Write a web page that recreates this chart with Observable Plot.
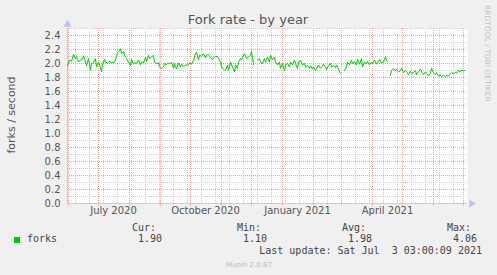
<!DOCTYPE html>
<html>
<head>
<meta charset="utf-8">
<script src="https://cdn.jsdelivr.net/npm/d3@7"></script>
<script src="https://cdn.jsdelivr.net/npm/@observablehq/plot@0.6"></script>
<style>
  html, body { margin: 0; padding: 0; background: #f0f0f0; }
  #chart { width: 497px; height: 275px; }
</style>
</head>
<body>
<div id="chart"></div>
<script>
// ---- data ----
const title = "Fork rate - by year";
const yLabel = "forks / second";
const sideText = "RRDTOOL / TOBI OETIKER";
const startDate = "2020-05-31";   // day 0
// day offsets from startDate (null value = gap in data)
const dayOffsets = [
  0,2,4,6,8,9,11,13,15,16,18,19,21,23,24,26,28,29,31,32,34,35,37,38,40,42,44,47,49,50,
  52,53,54,56,58,59,61,63,64,66,68,69,71,73,74,76,78,79,81,82,84,86,87,89,91,92,94,96,97,99,
  101,102,104,106,107,109,111,113,114,116,118,120,122,124,126,128,129,131,132,134,136,138,139,141,143,145,146,148,150,151,
  153,154,155,157,158,160,161,163,165,167,168,170,171,173,174,176,177,179,181,183,184,185,186,187,
  190,192,193,195,197,198,200,202,203,205,207,208,210,212,213,215,217,218,220,222,223,225,227,228,230,231,233,235,237,238,
  240,242,243,245,246,248,250,251,253,255,256,258,259,261,263,264,266,268,269,271,272,273,274,
  277,279,280,282,284,285,287,289,290,292,294,295,297,299,300,302,304,305,307,309,310,312,313,315,317,318,319,320,321,
  323,324,326,328,329,331,333,334,336,338,339,341,343,344,346,348,349,351,353,354,356,358,359,361,363,364,366,368,369,371,
  373,374,376,378,379,381,383,384,386,388,389,391,393,394,396,397
];
const forkRate = [
  1.97,2.05,2.03,2.13,2.07,2.10,2.02,2.05,2.06,2.11,2.02,1.97,2.07,1.90,2.00,2.01,2.07,1.95,2.02,1.98,1.88,1.99,2.06,2.02,2.01,2.03,2.01,2.02,2.10,2.16,
  2.18,2.21,2.14,2.17,2.09,2.07,2.02,1.97,2.06,1.99,2.02,2.00,2.05,1.98,2.02,2.01,2.09,2.03,2.12,2.07,2.09,2.12,2.02,2.00,2.01,1.95,1.93,1.95,2.00,1.98,
  2.01,1.99,2.02,1.93,2.00,1.92,2.01,1.95,1.99,1.95,1.98,1.97,2.01,1.99,2.04,2.14,2.16,2.05,2.12,2.10,2.14,2.08,2.12,2.13,2.08,2.06,2.08,2.10,2.10,2.07,
  2.02,1.95,1.93,1.91,1.90,1.98,1.90,2.02,1.95,1.88,1.98,1.93,2.02,2.07,2.05,2.12,2.14,2.07,2.09,2.12,2.17,2.09,1.98,null,
  2.05,2.07,2.02,2.00,2.07,2.02,2.09,2.02,2.12,2.05,2.09,2.02,1.98,2.02,1.93,2.00,1.90,1.98,2.00,1.95,2.02,1.98,2.05,2.00,1.93,2.02,2.05,1.98,2.00,1.95,
  1.97,1.93,1.97,1.92,1.95,1.90,1.95,1.98,1.93,1.96,1.99,1.95,1.91,1.97,2.00,1.95,1.97,1.94,1.98,1.93,1.88,1.86,null,
  1.90,1.95,2.02,1.98,2.05,2.00,2.03,1.98,2.06,1.99,2.07,1.95,2.02,2.00,2.03,1.98,2.02,2.00,2.05,1.99,2.01,2.06,2.02,2.01,2.05,2.10,2.04,2.03,null,
  1.83,1.90,1.93,1.89,1.92,1.88,1.90,1.93,1.87,1.90,1.88,1.84,1.89,1.86,1.87,1.90,1.84,1.88,1.92,1.88,1.84,1.88,1.86,1.82,1.86,1.93,1.87,1.84,1.87,1.82,
  1.84,1.81,1.83,1.81,1.83,1.82,1.86,1.87,1.85,1.88,1.86,1.90,1.88,1.91,1.89,1.90
];
const xLabels = ["July 2020", "October 2020", "January 2021", "April 2021"];
const xLabelDates = ["2020-07-16", "2020-10-16", "2021-01-16", "2021-04-16"];
const yMajorTicks = [0,0.2,0.4,0.6,0.8,1.0,1.2,1.4,1.6,1.8,2.0,2.2,2.4];
const yMinorTicks = [0.1,0.3,0.5,0.7,0.9,1.1,1.3,1.5,1.7,1.9,2.1,2.3,2.5];
const legendName = "forks";
const statHeads = ["Cur:", "Min:", "Avg:", "Max:"];
const statValues = ["1.90", "1.10", "1.98", "4.06"];
const lastUpdate = "Last update: Sat Jul  3 03:00:09 2021";
const footer = "Munin 2.0.67";

// ---- derived ----
const DAY = 86400000;
const t0 = new Date(startDate + "T00:00:00Z").getTime();
const data = dayOffsets.map((d, i) => ({date: new Date(t0 + d * DAY), value: forkRate[i]}));
const monthStarts = d3.utcMonths(new Date("2020-06-01T00:00:00Z"), new Date("2021-07-02T00:00:00Z"));
const biweekly = d3.utcDays(new Date("2020-06-08T00:00:00Z"), new Date("2021-07-04T00:00:00Z"), 14);
const xDomain = [new Date(t0), new Date(t0 + 400 * DAY)];
const labelDates = xLabelDates.map(s => new Date(s + "T00:00:00Z"));

const minorStyle = {stroke: "#cccccc", strokeDasharray: "1,1", strokeWidth: 1};
const majorStyle = {stroke: "#eaa2a2", strokeDasharray: "1,1", strokeWidth: 1};

const plot = Plot.plot({
  width: 497,
  height: 275,
  marginLeft: 67,
  marginRight: 30,
  marginTop: 28,
  marginBottom: 72,
  style: {background: "#f0f0f0", fontFamily: "DejaVu Sans", fontSize: "10px", color: "#555", overflow: "visible"},
  x: {type: "utc", domain: xDomain},
  y: {domain: [0, 2.5]},
  marks: [
    Plot.frame({fill: "white", stroke: null}),
    Plot.ruleY(yMinorTicks, {y: d => d, ...minorStyle}),
    Plot.ruleX(biweekly, {x: d => d, ...minorStyle}),
    Plot.ruleY(yMajorTicks.filter(d => d > 0), {y: d => d, ...majorStyle}),
    Plot.ruleX(monthStarts, {x: d => d, ...majorStyle}),
    Plot.ruleX(monthStarts, {x: d => d, y1: 0, y2: -0.035, stroke: "#e6a0a0", clip: false}),
    Plot.axisY({ticks: yMajorTicks, tickFormat: d3.format(".1f"), tickSize: 0, tickPadding: 7, label: null, fontSize: 10}),
    Plot.axisX({ticks: labelDates, tickFormat: (d, i) => xLabels[i], tickSize: 0, tickPadding: 3, label: null, fontSize: 10}),
    Plot.ruleY([0], {stroke: "#c8c8f4"}),
    Plot.ruleX([xDomain[0]], {y1: 0, y2: 2.5, stroke: "#c8c8f4"}),
    Plot.lineY(data, {x: "date", y: "value", stroke: "#00cc00", strokeWidth: 1}),
    Plot.dot([0], {x: () => xDomain[0], y: () => 2.56, symbol: "triangle", r: 3, fill: "#c0c0f8", stroke: null, clip: false}),
    Plot.dot([0], {x: () => new Date(t0 + 404 * DAY), y: () => 0, symbol: "triangle", rotate: 90, r: 3, fill: "#c0c0f8", stroke: null, clip: false})
  ]
});

const svg = d3.select(plot);
const addText = (txt, x, y, opts = {}) => {
  const t = svg.append("text")
    .attr("x", x).attr("y", y)
    .attr("fill", opts.fill || "#555")
    .attr("font-family", opts.family || "DejaVu Sans")
    .attr("font-size", opts.size || 10)
    .attr("text-anchor", opts.anchor || "start")
    .style("white-space", "pre")
    .attr("xml:space", "preserve")
    .text(txt);
  if (opts.transform) t.attr("transform", opts.transform);
  return t;
};
addText(title, 248, 24, {size: 13, anchor: "middle", fill: "#555"});
addText(yLabel, 0, 0, {size: 11, anchor: "middle", transform: "translate(15,115) rotate(-90)"});
addText(sideText, 0, 0, {size: 7.5, fill: "#c4c4c4", transform: "translate(485,5) rotate(90)"});

// legend
svg.append("rect").attr("x", 14).attr("y", 237).attr("width", 6).attr("height", 6).attr("fill", "#00cc00");
const mono = "DejaVu Sans Mono";
addText(legendName, 27, 242, {family: mono, fill: "#444"});
const headEnds = [156, 261, 366, 471];
statHeads.forEach((h, i) => addText(h, headEnds[i], 231, {family: mono, anchor: "end", fill: "#444"}));
statValues.forEach((v, i) => addText(v, headEnds[i] + 6, 242, {family: mono, anchor: "end", fill: "#444"}));
addText(lastUpdate, 482, 254, {family: mono, anchor: "end", fill: "#444"});
addText(footer, 249, 267, {size: 7, anchor: "middle", fill: "#bbb"});

document.getElementById("chart").appendChild(plot);
</script>
</body>
</html>
